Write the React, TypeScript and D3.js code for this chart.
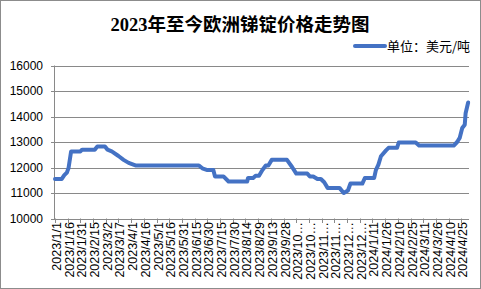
import React from "react";
import * as d3 from "d3";

const title = "2023年至今欧洲锑锭价格走势图";
const legendLabel = "单位：美元/吨";

const dates: string[] = [
  "2023-01-01","2023-01-09","2023-01-12","2023-01-15","2023-01-17","2023-01-20",
  "2023-01-31","2023-02-02","2023-02-17","2023-02-20","2023-03-01","2023-03-04",
  "2023-03-09","2023-03-17","2023-03-23","2023-03-29","2023-04-06","2023-06-20",
  "2023-06-24","2023-06-30","2023-07-07","2023-07-09","2023-07-19","2023-07-25",
  "2023-08-16","2023-08-17","2023-08-23","2023-08-26","2023-08-30","2023-09-03",
  "2023-09-07","2023-09-10","2023-09-14","2023-10-02","2023-10-08","2023-10-13",
  "2023-10-26","2023-10-29","2023-11-02","2023-11-07","2023-11-11","2023-11-15",
  "2023-11-19","2023-12-03","2023-12-08","2023-12-13","2023-12-16","2023-12-30",
  "2024-01-02","2024-01-13","2024-01-15","2024-01-18","2024-01-21","2024-01-27",
  "2024-01-30","2024-02-09","2024-02-11","2024-03-02","2024-03-06","2024-04-16",
  "2024-04-20","2024-04-23","2024-04-26","2024-04-29","2024-04-30","2024-05-03",
];

const prices: number[] = [
  11550,11550,11700,11800,11980,12630,
  12630,12700,12700,12820,12820,12700,
  12630,12450,12300,12180,12080,12080,
  11970,11900,11900,11650,11650,11450,
  11450,11590,11590,11680,11680,11900,
  12080,12080,12300,12300,12020,11760,
  11760,11650,11650,11550,11550,11420,
  11200,11200,11000,11100,11370,11370,
  11590,11590,11900,12110,12440,12670,
  12770,12770,12980,12980,12860,12860,
  13000,13160,13550,13680,14130,14550,
];

const xTickLabels: string[] = [
  "2023/1/1","2023/1/16","2023/1/31","2023/2/15","2023/3/2","2023/3/17",
  "2023/4/1","2023/4/16","2023/5/1","2023/5/16","2023/5/31","2023/6/15",
  "2023/6/30","2023/7/15","2023/7/30","2023/8/14","2023/8/29","2023/9/13",
  "2023/9/28","2023/10/13","2023/10/28","2023/11/12","2023/11/27","2023/12/12",
  "2023/12/27","2024/1/11","2024/1/26","2024/2/10","2024/2/25","2024/3/11",
  "2024/3/26","2024/4/10","2024/4/25",
];

const yTicks: number[] = [10000, 11000, 12000, 13000, 14000, 15000, 16000];

const parseIso = d3.timeParse("%Y-%m-%d");
const parseSlash = d3.timeParse("%Y/%m/%d");

export default function App() {
  const W = 481, H = 289;
  const left = 55, right = 469, top = 65.5, bottom = 218.5;
  const x = d3.scaleTime()
    .domain([parseIso("2023-01-01")!, parseIso("2024-05-04")!])
    .range([left, right]);
  const y = d3.scaleLinear().domain([10000, 16000]).range([bottom, top]);
  const data = dates.map((d, i) => ({ d: parseIso(d)!, v: prices[i] }));
  const line = d3.line<{ d: Date; v: number }>().x(p => x(p.d)).y(p => y(p.v));
  const grey = "#898989";
  const axisFont = "'Liberation Sans', Arial, sans-serif";

  return (
    <svg width={W} height={H} style={{ position: "absolute", left: 0, top: 0, background: "#fff" }}>
      <rect x={0.5} y={0.5} width={W - 1} height={H - 1} fill="#fff" stroke="#8c8c8c" />
      <text x={240} y={31} textAnchor="middle" fontSize={18.5} fontWeight="bold"
        fontFamily="'Liberation Serif', 'Noto Sans CJK SC', serif" fill="#000">{title}</text>
      <line x1={355} x2={385} y1={46} y2={46} stroke="#4472C4" strokeWidth={4} strokeLinecap="round" />
      <text x={387} y={50.5} fontSize={13} fontFamily="'Noto Sans CJK SC', sans-serif" fill="#000">{legendLabel}</text>
      {yTicks.map(t => (
        <g key={t}>
          <line x1={left} x2={right} y1={Math.round(y(t)) + 0.5} y2={Math.round(y(t)) + 0.5} stroke={grey} />
          <line x1={left - 4} x2={left} y1={Math.round(y(t)) + 0.5} y2={Math.round(y(t)) + 0.5} stroke={grey} />
          <text x={43} y={y(t) + 4.3} textAnchor="end" fontSize={12} fontFamily={axisFont} fill="#000">{t}</text>
        </g>
      ))}
      <line x1={left - 0.5} x2={left - 0.5} y1={top} y2={bottom + 0.5} stroke={grey} />
      {xTickLabels.map(l => {
        const xx = Math.round(x(parseSlash(l)!)) + 0.5;
        const txt = l.length > 9 ? l.slice(0, 7) + "…" : l;
        return (
          <g key={l}>
            <line x1={xx} x2={xx} y1={bottom} y2={bottom + 4.5} stroke={grey} />
            <text transform={`translate(${xx + 5.5},${222}) rotate(-90)`} textAnchor="end"
              fontSize={12.5} fontFamily={axisFont} fill="#000">{txt}</text>
          </g>
        );
      })}
      <path d={line(data) ?? ""} fill="none" stroke="#4472C4" strokeWidth={4} strokeLinejoin="round" strokeLinecap="round" />
    </svg>
  );
}
